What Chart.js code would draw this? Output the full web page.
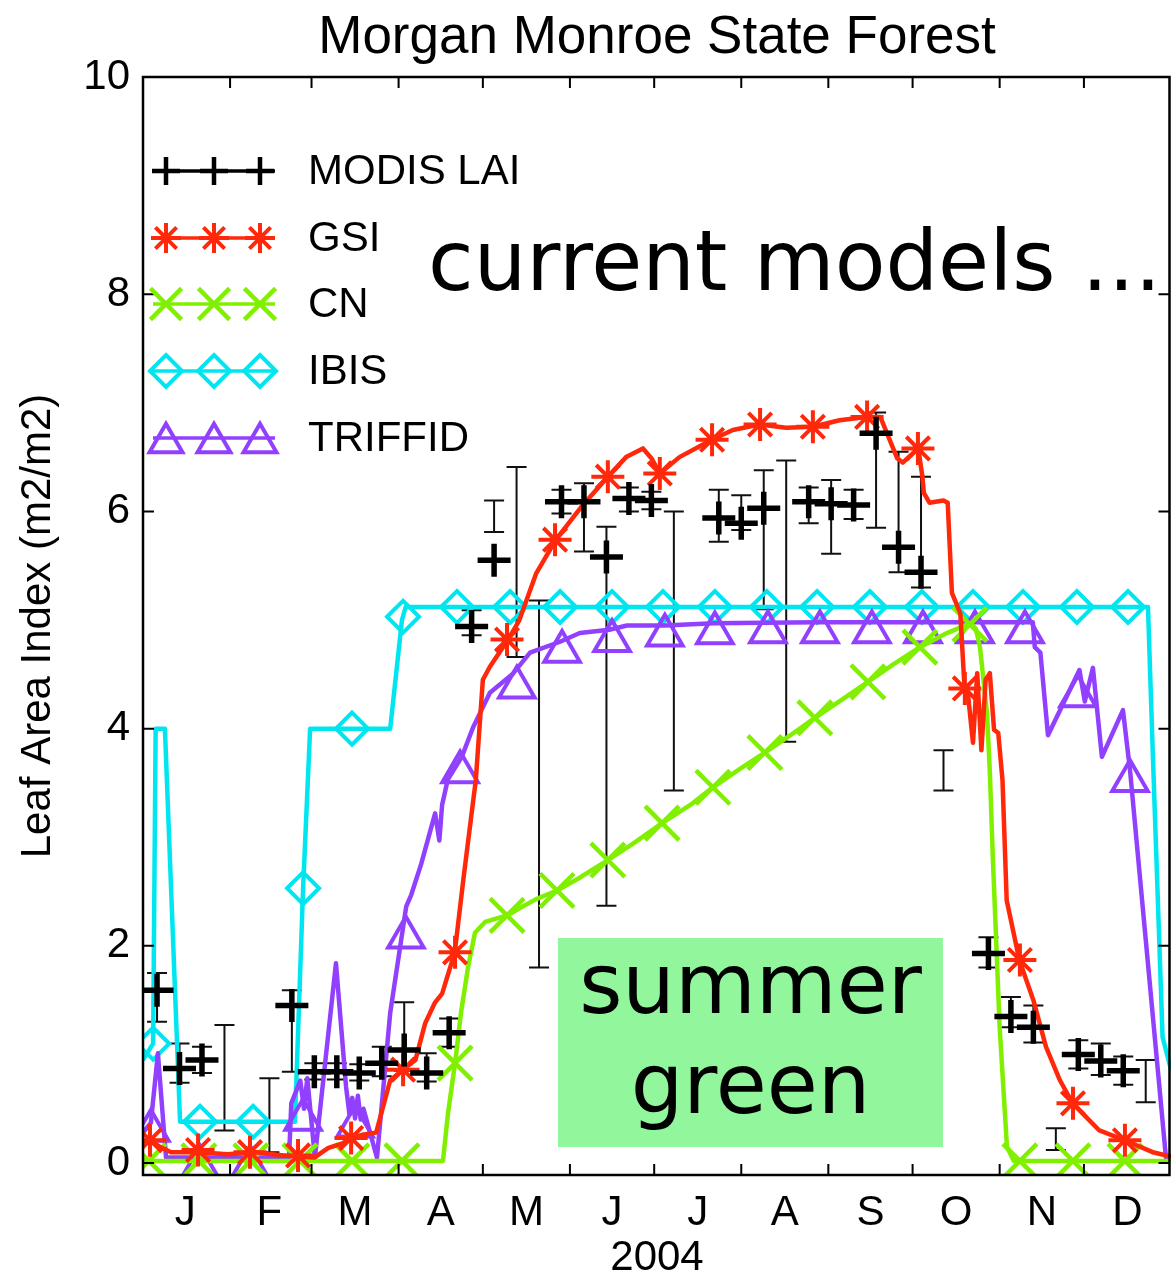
<!DOCTYPE html>
<html>
<head>
<meta charset="utf-8">
<script src="https://cdn.jsdelivr.net/npm/chart.js@4.4.1/dist/chart.umd.min.js"></script>
<style>
html,body{margin:0;padding:0;background:#fff;}
#wrap{width:1171px;height:1276px;position:relative;overflow:hidden;}
canvas{display:block;}
</style>
</head>
<body>
<div id="wrap"><canvas id="c" width="1171" height="1276"></canvas></div>
<script>
// ---------- axis / category data ----------
const monthLabels  = ['J','F','M','A','M','J','J','A','S','O','N','D'];
const monthCenters = [15, 45, 75.5, 106, 136.5, 167, 197.5, 228.5, 259, 289.5, 320, 350.5];
const monthStarts  = [31, 60, 91, 121, 152, 182, 213, 244, 274, 305, 335];
const yTicks = [0, 2, 4, 6, 8, 10];

// ---------- MODIS LAI (8-day composites) ----------
const modisDays = [5,13,21,29,45,53,61,69,77,85,93,101,109,117,125,133,141,149,157,165,173,181,189,205,213,221,229,237,245,253,261,269,277,285,301,309,317,325,333,341,349,357];
const modisMean = [1.59,0.87,0.95,null,null,1.45,0.84,0.84,0.83,0.92,1.04,0.83,1.2,4.94,5.55,null,null,6.09,6.09,5.58,6.12,6.1,null,5.94,5.89,6.03,null,6.09,6.07,6.06,6.72,5.67,5.44,null,1.93,1.35,1.25,null,1.0,0.94,0.85,null];
const modisLow  = [1.3,0.74,0.83,0.3,0.1,0.84,0.77,0.77,0.76,0.8,0.85,0.75,1.07,4.86,5.81,4.66,1.8,5.98,5.63,2.37,6.0,6.02,3.43,5.72,5.83,5.1,3.88,5.89,5.61,5.93,5.85,5.44,5.3,3.43,1.8,1.25,1.11,0.12,0.87,0.81,0.72,0.56];
const modisHigh = [1.75,1.1,1.07,1.27,0.78,1.59,0.92,0.92,0.91,1.07,1.48,1.01,1.33,5.09,6.1,6.41,5.18,6.2,6.26,5.86,6.22,6.18,6.0,6.2,6.15,6.38,6.47,6.22,6.29,6.2,6.91,6.55,6.32,3.8,2.08,1.53,1.45,0.32,1.13,1.1,0.98,0.95];

// ---------- GSI ----------
const gsiDays = [0,2.5,6,10,20,30,40,50,55,61,66,71,74,78,83,88,92.5,97,100.5,104,106.5,111,114,117,118.5,121,123.5,130,134,140,147,156,165.5,172,178,181,184,191,202.5,210,219.5,229,238.5,248,257.5,262.5,268.5,270.5,276,277.5,278,280,285,286.5,288,291,292.5,293.5,295.5,297,298.5,300,301.5,303,304.5,306,307.5,312,317,321.5,326.5,331,340.5,349.5,359.5,366];
const gsiVals = [0.2,0.21,0.15,0.1,0.1,0.08,0.1,0.07,0.06,0.05,0.14,0.18,0.23,0.26,0.28,0.76,0.86,0.95,1.29,1.48,1.56,1.94,2.6,3.22,3.53,4.45,4.57,4.82,5.0,5.43,5.74,6.04,6.32,6.5,6.58,6.49,6.35,6.5,6.66,6.75,6.8,6.77,6.78,6.84,6.87,6.87,6.49,6.45,6.58,6.32,6.17,6.08,6.1,6.08,5.25,5.06,4.37,4.37,3.87,4.51,3.8,4.45,4.51,3.99,3.96,3.53,2.42,1.87,1.5,1.07,0.76,0.55,0.3,0.21,0.1,0.06];
const gsiMarkDays = [2.5,19.6,38.1,55.2,74.1,92.6,111.1,129.6,146.7,165.5,184,202.6,219.7,238.5,257.8,275.9,292.6,312.2,331.1,349.6];
const gsiMarkVals = [0.21,0.12,0.1,0.07,0.23,0.86,1.94,4.82,5.74,6.32,6.35,6.66,6.8,6.78,6.87,6.58,4.37,1.87,0.55,0.21];

// ---------- CN ----------
const cnDays = [0,106.8,108.6,111.1,113.2,115.7,118.2,121.8,129.6,135,140,147.4,155,165.5,175,184.8,195,202.9,212,221.4,230,239.2,249,258.1,267,276.6,286.2,294.5,296.5,298,300.5,301.5,302.6,305,307.6,310,366];
const cnVals = [0.02,0.02,0.46,0.92,1.38,1.8,2.12,2.22,2.28,2.36,2.43,2.51,2.62,2.79,2.95,3.13,3.3,3.46,3.62,3.78,3.93,4.1,4.27,4.43,4.59,4.75,4.88,4.97,4.92,4.75,4.14,3.6,2.79,1.25,0.15,0.02,0.02];
const cnMarkDays = [2.1,19.9,38.4,55.9,74.4,92.2,111.1,129.6,147.4,165.5,184.8,202.9,221.4,239.2,258.1,276.6,294.4,312.2,331.1,349.6];
const cnMarkVals = [0.02,0.02,0.02,0.02,0.02,0.02,0.92,2.28,2.51,2.79,3.13,3.46,3.78,4.1,4.43,4.75,4.96,0.02,0.02,0.02];

// ---------- IBIS ----------
const ibisDays = [0,3.6,4.5,7.8,13.2,54.1,57,59.5,88,92.2,93.5,357.8,359.6,363,366];
const ibisVals = [0.95,1.1,4.0,4.0,0.38,0.38,2.53,4.0,4.0,5.0,5.12,5.12,3.71,1.16,0.86];
const ibisMarkDays = [3.6,20.3,39.2,57,74.4,92.6,111.8,130.7,148.5,167,185.1,203.6,222.1,240,258.8,277.3,295.5,313.3,332.5,350.7];
const ibisMarkVals = [1.1,0.38,0.38,2.53,4.0,5.03,5.12,5.12,5.12,5.12,5.12,5.12,5.12,5.12,5.12,5.12,5.12,5.12,5.12,5.12];

// ---------- TRIFFID ----------
const trDays = [0,2.8,5.3,8.2,52,52.8,56,57.3,58.5,61.2,68.7,72.3,73.5,74.5,75.5,76.5,77.5,78.5,83.3,88,93.7,95.5,99,104,105.5,106.5,108.5,113.5,117.5,123.5,131.5,137.8,148.5,155.5,166,172.3,186,203,240,316.8,317.5,319.5,322.2,333.4,335.3,338.2,341.4,348.9,351.4,364.2,366];
const trVals = [0.28,0.37,1.01,0.05,0.05,0.55,0.76,0.5,0.78,0.05,1.84,0.7,0.45,0.6,0.41,0.62,0.4,0.5,0.05,1.38,2.36,2.47,2.75,3.22,2.97,3.3,3.53,3.74,4.01,4.33,4.5,4.7,4.8,4.88,4.91,4.95,4.95,4.97,4.98,4.98,4.75,4.7,3.94,4.54,4.25,4.56,3.74,4.17,3.62,0.05,0.07];
const trMarkDays = [2.8,20.3,38.1,57,75.5,93.6,112.9,133.1,149.2,167,185.8,203.6,222.5,241,259.5,277.7,296.2,314,332.9,351.4];
const trMarkVals = [0.3,-0.03,-0.03,0.4,0.34,2.08,3.6,4.38,4.71,4.81,4.86,4.88,4.89,4.89,4.89,4.89,4.89,4.89,4.3,3.52];

// ---------- styling ----------
const FONT = 'Liberation Sans';
const BIG_FONT = 'DejaVu Sans';
const C_GSI = 'rgb(255,40,10)';
const C_CN = 'rgb(128,240,0)';
const C_IBIS = 'rgb(0,230,240)';
const C_TR = 'rgb(146,64,255)';
const C_BOX = 'rgb(146,247,156)';

const pts = (xs, ys) => xs.map((x, i) => ({x: x, y: ys[i]})).filter(p => p.y !== null);

function lineDs(label, xs, ys, color, order) {
  return {label, data: pts(xs, ys), borderColor: color, borderWidth: 4.5, pointRadius: 0,
          tension: 0, fill: false, order, clip: 0, borderJoinStyle: 'round'};
}
function markDs(label, xs, ys, color, style, r, bw, order) {
  return {label, data: pts(xs, ys), showLine: false, borderColor: color,
          pointStyle: style, pointRadius: r, pointHoverRadius: r, pointBorderWidth: bw,
          pointBorderColor: color, pointBackgroundColor: 'rgba(0,0,0,0)', order, clip: 0};
}

const datasets = [
  markDs('MODIS LAI', modisDays, modisMean, '#000', 'cross', 16.5, 5.5, 0),
  lineDs('GSI', gsiDays, gsiVals, C_GSI, 1),
  markDs('GSI markers', gsiMarkDays, gsiMarkVals, C_GSI, 'star', 16.5, 4, 0.9),
  lineDs('CN', cnDays, cnVals, C_CN, 2),
  markDs('CN markers', cnMarkDays, cnMarkVals, C_CN, 'crossRot', 24, 4.5, 1.9),
  lineDs('TRIFFID', trDays, trVals, C_TR, 3),
  markDs('TRIFFID markers', trMarkDays, trMarkVals, C_TR, 'triangle', 20.5, 4, 2.9),
  lineDs('IBIS', ibisDays, ibisVals, C_IBIS, 4),
  markDs('IBIS markers', ibisMarkDays, ibisMarkVals, C_IBIS, 'rectRot', 16, 4, 3.9)
];

const legendRows = [
  {label: 'MODIS LAI', color: '#000', style: 'cross', r: 14, lw: 4.5},
  {label: 'GSI', color: C_GSI, style: 'star', r: 15, lw: 4},
  {label: 'CN', color: C_CN, style: 'crossRot', r: 22, lw: 4.5},
  {label: 'IBIS', color: C_IBIS, style: 'rectRot', r: 16, lw: 4},
  {label: 'TRIFFID', color: C_TR, style: 'triangle', r: 19, lw: 4}
];

function drawMarker(ctx, style, x, y, r) {
  ctx.beginPath();
  const d = r * Math.SQRT1_2;
  if (style === 'cross' || style === 'star') {
    ctx.moveTo(x, y - r); ctx.lineTo(x, y + r);
    ctx.moveTo(x - r, y); ctx.lineTo(x + r, y);
  }
  if (style === 'crossRot' || style === 'star') {
    ctx.moveTo(x - d, y - d); ctx.lineTo(x + d, y + d);
    ctx.moveTo(x - d, y + d); ctx.lineTo(x + d, y - d);
  }
  if (style === 'rectRot') {
    ctx.moveTo(x, y - r); ctx.lineTo(x + r, y); ctx.lineTo(x, y + r); ctx.lineTo(x - r, y); ctx.closePath();
  }
  if (style === 'triangle') {
    const yc = y + r * 0.25;
    ctx.moveTo(x, yc - r); ctx.lineTo(x + 0.866 * r, yc + 0.5 * r); ctx.lineTo(x - 0.866 * r, yc + 0.5 * r); ctx.closePath();
  }
  ctx.stroke();
}

const errorBarPlugin = {
  id: 'errorBars',
  beforeDatasetsDraw(chart) {
    const ctx = chart.ctx, xs = chart.scales.x, ys = chart.scales.y, a = chart.chartArea;
    ctx.save();
    ctx.beginPath(); ctx.rect(a.left, a.top, a.right - a.left, a.bottom - a.top); ctx.clip();
    ctx.strokeStyle = '#111'; ctx.lineWidth = 2;
    modisDays.forEach((d, i) => {
      const px = xs.getPixelForValue(d);
      const y1 = ys.getPixelForValue(modisLow[i]), y2 = ys.getPixelForValue(modisHigh[i]);
      ctx.beginPath();
      ctx.moveTo(px, y1); ctx.lineTo(px, y2);
      ctx.moveTo(px - 10, y1); ctx.lineTo(px + 10, y1);
      ctx.moveTo(px - 10, y2); ctx.lineTo(px + 10, y2);
      ctx.stroke();
    });
    ctx.restore();
  }
};

const framePlugin = {
  id: 'frame',
  afterDatasetsDraw(chart) {
    const ctx = chart.ctx, xs = chart.scales.x, ys = chart.scales.y;
    const a = chart.chartArea;
    const L = a.left, R = a.right - 1.5, T = a.top, B = a.bottom;
    ctx.save();
    ctx.strokeStyle = '#000'; ctx.lineWidth = 2.5;
    ctx.strokeRect(L, T, R - L, B - T);
    ctx.lineWidth = 2;
    ctx.beginPath();
    monthStarts.forEach(d => {
      const px = xs.getPixelForValue(d);
      ctx.moveTo(px, B); ctx.lineTo(px, B - 11);
      ctx.moveTo(px, T); ctx.lineTo(px, T + 11);
    });
    yTicks.forEach(v => {
      const py = ys.getPixelForValue(v);
      ctx.moveTo(L, py); ctx.lineTo(L + 11, py);
      ctx.moveTo(R, py); ctx.lineTo(R - 11, py);
    });
    ctx.stroke();
    ctx.restore();
  }
};

const overlayPlugin = {
  id: 'overlay',
  afterDraw(chart) {
    const ctx = chart.ctx;
    ctx.save();
    // legend
    const rowY = [171, 238, 304, 371, 438];
    legendRows.forEach((row, i) => {
      const y = rowY[i];
      ctx.strokeStyle = row.color; ctx.lineWidth = 3.5; ctx.lineCap = 'butt';
      ctx.beginPath(); ctx.moveTo(153, y); ctx.lineTo(275, y); ctx.stroke();
      ctx.lineWidth = row.lw;
      [166, 214, 260].forEach(mx => drawMarker(ctx, row.style, mx, y, row.r));
      ctx.fillStyle = '#000';
      ctx.font = '42px "' + FONT + '"';
      ctx.textBaseline = 'middle'; ctx.textAlign = 'left';
      ctx.fillText(row.label, 308, y + 1);
    });
    // green box
    ctx.fillStyle = C_BOX;
    ctx.fillRect(558, 938, 385, 209);
    ctx.fillStyle = '#000';
    ctx.textBaseline = 'alphabetic';
    ctx.font = '83px "' + BIG_FONT + '"';
    ctx.textAlign = 'center';
    ctx.fillText('summer', 750.5, 1013);
    ctx.fillText('green', 750.5, 1113);
    ctx.textAlign = 'left';
    ctx.fillText('current models ...', 428, 290);
    ctx.restore();
  }
};

Chart.defaults.color = '#000';
Chart.defaults.font.family = FONT;

new Chart(document.getElementById('c').getContext('2d'), {
  type: 'line',
  data: {datasets},
  options: {
    responsive: false,
    animation: false,
    devicePixelRatio: 1,
    layout: {padding: 0, autoPadding: false},
    events: [],
    plugins: {
      legend: {display: false},
      tooltip: {enabled: false},
      title: {
        display: true, text: 'Morgan Monroe State Forest', color: '#000', fullSize: false,
        font: {family: FONT, size: 53, weight: 'normal', lineHeight: 1.2},
        padding: {top: 6.5, bottom: 6.9}
      }
    },
    scales: {
      x: {
        type: 'linear', min: 0, max: 366, position: 'bottom',
        grid: {display: false, drawTicks: false},
        border: {display: false},
        afterBuildTicks: s => { s.ticks = monthCenters.map(v => ({value: v})); },
        ticks: {autoSkip: false, maxRotation: 0, padding: 13, color: '#000',
                font: {family: FONT, size: 42},
                callback: (v, i) => monthLabels[i]},
        title: {display: true, text: '2004', color: '#000',
                font: {family: FONT, size: 42, lineHeight: 0.85}, padding: {top: 0, bottom: 0}},
        afterFit: s => { s.height = 101; }
      },
      y: {
        type: 'linear', min: -0.11, max: 10,
        grid: {display: false, drawTicks: false},
        border: {display: false},
        afterBuildTicks: s => { s.ticks = yTicks.map(v => ({value: v})); },
        ticks: {padding: 13, color: '#000', font: {family: FONT, size: 42},
                callback: v => String(v)},
        title: {display: true, text: 'Leaf Area Index (m2/m2)', color: '#000',
                font: {family: FONT, size: 42, lineHeight: 1.2}, padding: {top: 13, bottom: 0}},
        afterFit: s => { s.width = 143; }
      }
    }
  },
  plugins: [errorBarPlugin, framePlugin, overlayPlugin]
});
</script>
</body>
</html>
